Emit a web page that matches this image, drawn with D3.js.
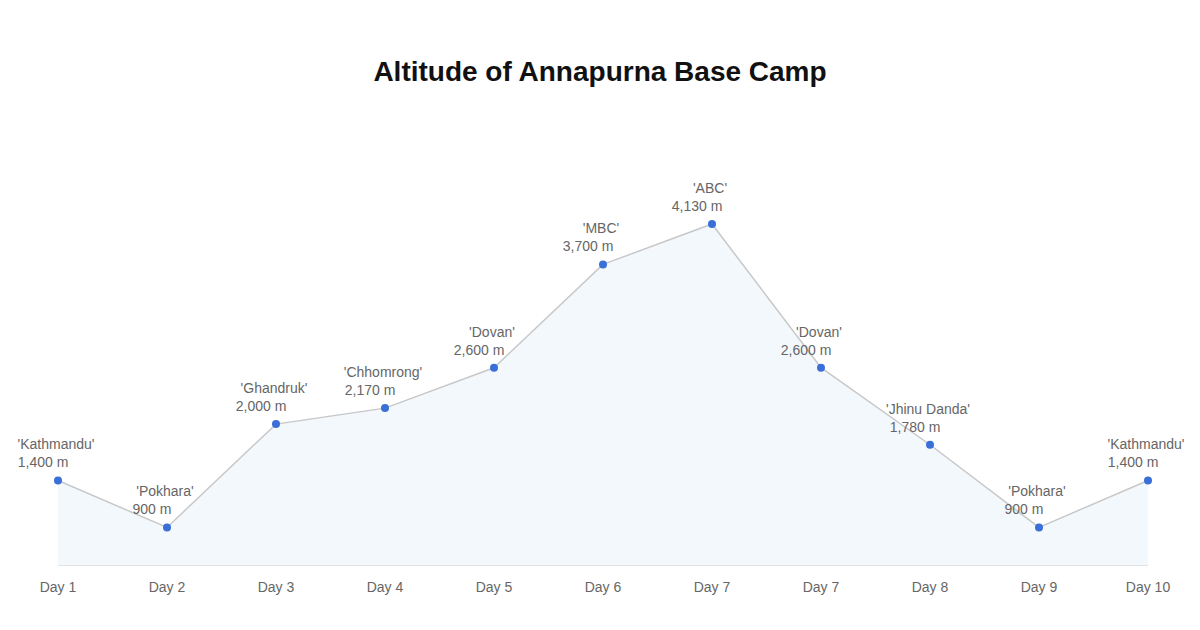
<!DOCTYPE html>
<html><head><meta charset="utf-8">
<script src="https://cdn.jsdelivr.net/npm/d3@7"></script>
<style>body{margin:0;background:#fff;font-family:Arial,"Liberation Sans",sans-serif}</style>
</head><body><svg id="c" width="1200" height="630"></svg>
<script>
const days = ["Day 1","Day 2","Day 3","Day 4","Day 5","Day 6","Day 7","Day 7","Day 8","Day 9","Day 10"];
const places = ["Kathmandu","Pokhara","Ghandruk","Chhomrong","Dovan","MBC","ABC","Dovan","Jhinu Danda","Pokhara","Kathmandu"];
const altitudes = [1400,900,2000,2170,2600,3700,4130,2600,1780,900,1400];

const svg = d3.select("#c");
const x = d3.scaleLinear().domain([0, days.length-1]).range([58,1148]);
const y = d3.scaleLinear().domain([500,4130]).range([565,224]);
const idx = d3.range(days.length);

svg.append("text").attr("x",600).attr("y",81).attr("text-anchor","middle")
  .attr("font-size",28).attr("font-weight","bold").attr("fill","#111")
  .text("Altitude of Annapurna Base Camp");

svg.append("path").datum(idx).attr("fill","#f3f8fd")
  .attr("d", d3.area().x(i=>x(i)).y0(y(500)).y1(i=>y(altitudes[i])));
svg.append("line").attr("x1",58).attr("x2",1148).attr("y1",565.5).attr("y2",565.5).attr("stroke","#e3e3e3");
svg.append("path").datum(idx).attr("fill","none").attr("stroke","#c8c8c8").attr("stroke-width",1.5)
  .attr("d", d3.line().x(i=>x(i)).y(i=>y(altitudes[i])));
svg.selectAll("circle.p").data(idx).join("circle").attr("cx",i=>x(i)).attr("cy",i=>y(altitudes[i]))
  .attr("r",4).attr("fill","#3a6fd8");

const fmt = d3.format(",");
const g = svg.selectAll("g.l").data(idx).join("g");
g.append("text").attr("x",i=>x(i)-2).attr("y",i=>y(altitudes[i])-31).attr("text-anchor","middle")
  .attr("font-size",14).attr("fill","#666").text(i=>"'"+places[i]+"'");
g.append("text").attr("x",i=>x(i)-15).attr("y",i=>y(altitudes[i])-13).attr("text-anchor","middle")
  .attr("font-size",14).attr("fill","#666").text(i=>fmt(altitudes[i])+" m");

svg.selectAll("text.ax").data(idx).join("text").attr("x",i=>x(i)).attr("y",592)
  .attr("text-anchor","middle").attr("font-size",14).attr("fill","#666").text(i=>days[i]);
</script></body></html>
